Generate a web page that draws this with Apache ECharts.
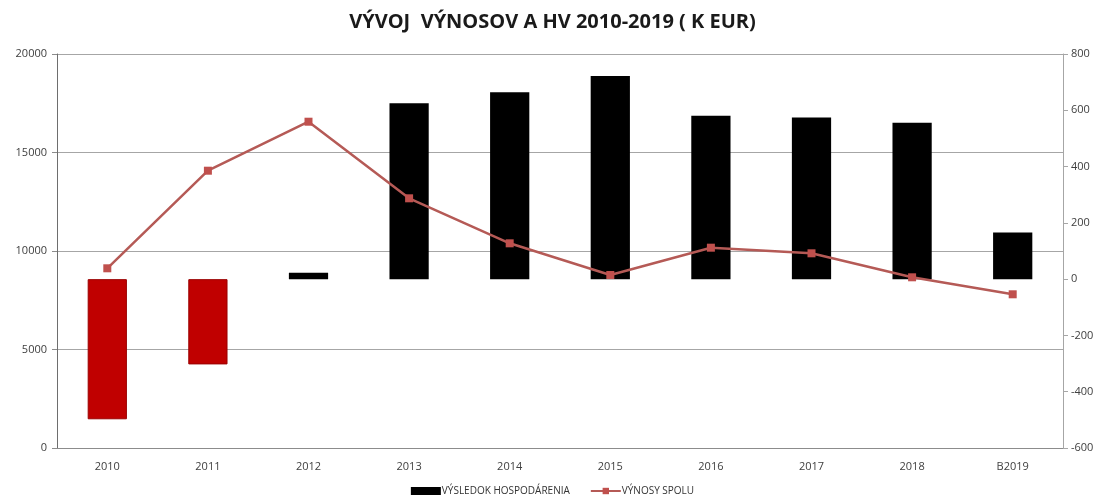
<!DOCTYPE html>
<html>
<head>
<meta charset="utf-8">
<script src="https://cdn.jsdelivr.net/npm/echarts@6/dist/echarts.min.js"></script>
<style>
html,body{margin:0;padding:0;background:#fff;}
#chart{width:1105px;height:501px;}
</style>
</head>
<body>
<div id="chart"></div>
<script>
const categories = ['2010','2011','2012','2013','2014','2015','2016','2017','2018','B2019'];
const vysledokHospodarenia = [-498, -303, 23, 625, 664, 722, 581, 574, 556, 166];
const vynosySpolu = [9122, 14076, 16563, 12675, 10390, 8782, 10168, 9883, 8665, 7802];
const leftTicks = {min: 0, max: 20000, interval: 5000};
const rightTicks = {min: -600, max: 800, interval: 200};

const FONT = '"Open Sans", "Liberation Sans", sans-serif';
const chart = echarts.init(document.getElementById('chart'), null, {renderer: 'canvas'});

chart.setOption({
  backgroundColor: '#ffffff',
  animation: false,
  title: {
    text: 'VÝVOJ  VÝNOSOV A HV 2010-2019 ( K EUR)',
    left: 'center',
    top: 7,
    textStyle: {fontFamily: FONT, fontSize: 20, fontWeight: 'bold', color: '#1a1a1a'}
  },
  legend: {
    bottom: 0,
    left: 'center',
    itemGap: 20,
    itemWidth: 30,
    itemHeight: 8,
    textStyle: {fontFamily: FONT, fontSize: 10, color: '#333', padding: [0,0,0,-4]},
    data: [
      {name: 'VÝSLEDOK HOSPODÁRENIA', icon: 'rect'},
      {name: 'VÝNOSY SPOLU'}
    ]
  },
  grid: {left: 57, right: 42, top: 54, bottom: 53, containLabel: false},
  xAxis: {
    type: 'category',
    data: categories,
    boundaryGap: true,
    axisLine: {onZero: false, lineStyle: {color: '#8c8c8c', width: 1}},
    axisTick: {show: false},
    axisLabel: {fontFamily: FONT, fontSize: 11, color: '#404040', margin: 13}
  },
  yAxis: [
    {
      type: 'value',
      position: 'left',
      min: leftTicks.min, max: leftTicks.max, interval: leftTicks.interval,
      axisLine: {show: true, lineStyle: {color: '#6e6e6e', width: 1}},
      axisTick: {show: true, length: 5, lineStyle: {color: '#8c8c8c'}},
      axisLabel: {fontFamily: FONT, fontSize: 11, color: '#404040', margin: 10,
                  formatter: v => String(v)},
      splitLine: {show: true, lineStyle: {color: '#a6a6a6', width: 1}}
    },
    {
      type: 'value',
      position: 'right',
      min: rightTicks.min, max: rightTicks.max, interval: rightTicks.interval,
      axisLine: {show: true, lineStyle: {color: '#a6a6a6', width: 1}},
      axisTick: {show: true, length: 5, lineStyle: {color: '#a6a6a6'}},
      axisLabel: {fontFamily: FONT, fontSize: 11, color: '#404040', margin: 8,
                  formatter: v => String(v)},
      splitLine: {show: false}
    }
  ],
  series: [
    {
      name: 'VÝSLEDOK HOSPODÁRENIA',
      type: 'bar',
      yAxisIndex: 1,
      barWidth: '39%',
      itemStyle: {color: '#000000'},
      data: vysledokHospodarenia.map(v => v < 0
        ? {value: v, itemStyle: {color: '#c00000', borderColor: '#9a0000', borderWidth: 1}}
        : v)
    },
    {
      name: 'VÝNOSY SPOLU',
      type: 'line',
      yAxisIndex: 0,
      symbol: 'rect',
      symbolSize: 8,
      itemStyle: {color: '#c0504d'},
      lineStyle: {color: '#b55a56', width: 2.5},
      data: vynosySpolu,
      z: 3
    }
  ]
});
</script>
</body>
</html>
